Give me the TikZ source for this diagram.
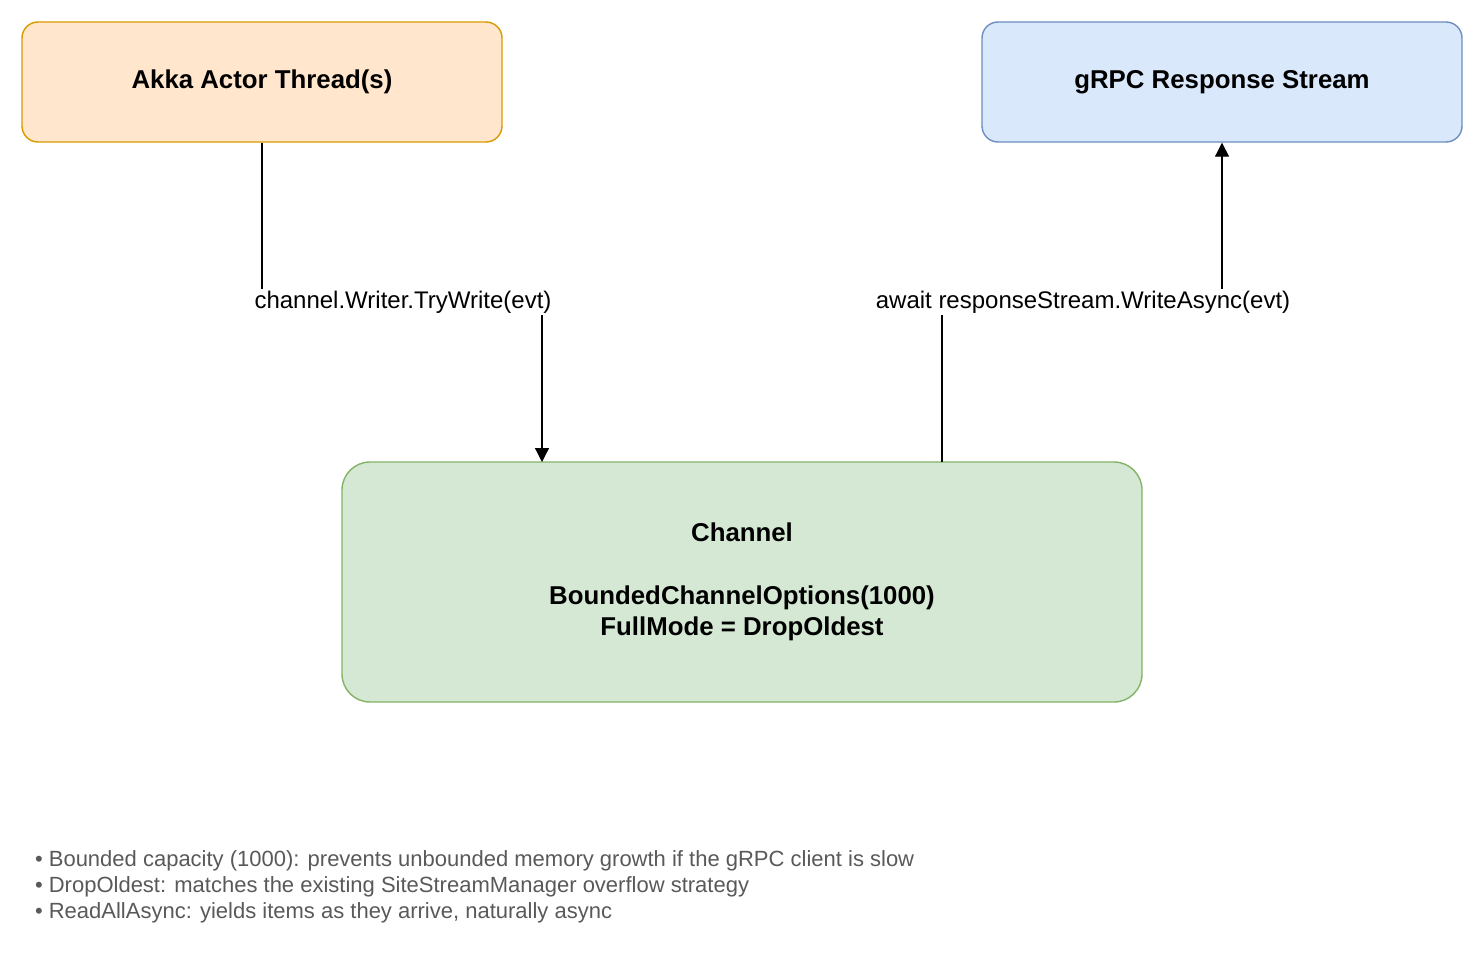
\documentclass[tikz,border=0pt]{standalone}
\usepackage{fontspec}
\setmainfont{Liberation Sans}
\usetikzlibrary{arrows.meta}
\definecolor{akkafill}{HTML}{FFE6CC}\definecolor{akkaline}{HTML}{D79B00}
\definecolor{grpcfill}{HTML}{DAE8FC}\definecolor{grpcline}{HTML}{6C8EBF}
\definecolor{chanfill}{HTML}{D5E8D4}\definecolor{chanline}{HTML}{82B366}
\tikzset{
  box/.style={draw, line width=0.7pt, rounded corners=8pt, align=center,
    font=\fontsize{12.9}{15.5}\selectfont\bfseries},
  lbl/.style={fill=white, inner sep=1pt, font=\fontsize{12}{14}\selectfont},
  arr/.style={line width=0.6pt, -{Triangle[length=7pt,width=7pt]}},
  line/.style={line width=0.6pt}
}
\begin{document}
\begin{tikzpicture}[x=0.5pt,y=-0.5pt]
\useasboundingbox (0,0) rectangle (1475,974);

% Boxes
\node[box, fill=akkafill, draw=akkaline, minimum width=240pt, minimum height=60pt] (akka) at (262,82) {Akka Actor Thread(s)};
\node[box, fill=grpcfill, draw=grpcline, minimum width=240pt, minimum height=60pt] (grpc) at (1222,82) {gRPC Response Stream};
\node[box, fill=chanfill, draw=chanline, rounded corners=14pt, minimum width=400pt, minimum height=120pt] (chan) at (742,582)
  {Channel\\[16pt]BoundedChannelOptions(1000)\\FullMode = DropOldest};

% Connectors
\coordinate (win) at (542,462);
\coordinate (rout) at (942,462);
\coordinate (wmid) at (403,302);
\coordinate (rmid) at (1083,302);
\draw[arr] (akka.south) -- (akka.south |- wmid) -- (wmid -| win) -- (win);
\draw[arr] (rout) -- (rout |- rmid) -- (rmid -| grpc.south) -- (grpc.south);
\node[lbl] (wl) at (wmid) {channel.Writer.TryWrite(evt)};
\node[lbl] (rl) at (rmid) {await responseStream.WriteAsync(evt)};

% Notes
\node[anchor=north west, align=left, text=black!65, font=\fontsize{11}{13}\selectfont] (notes) at (28,843)
  {• Bounded capacity (1000): prevents unbounded memory growth if the gRPC client is slow\\
   • DropOldest: matches the existing SiteStreamManager overflow strategy\\
   • ReadAllAsync: yields items as they arrive, naturally async};
\end{tikzpicture}
\end{document}
